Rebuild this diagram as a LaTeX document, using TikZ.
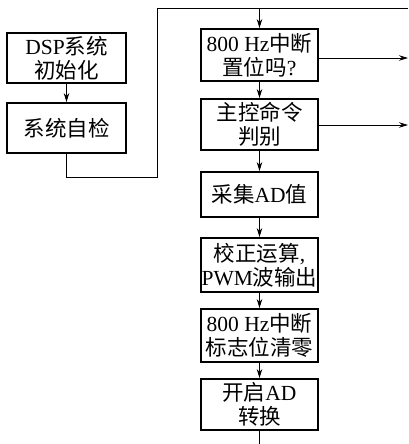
\documentclass[tikz,border=0pt]{standalone}
\usepackage{fontspec}
\setmainfont{Liberation Serif}
\newfontfamily\cjk{Noto Sans CJK SC}
\usetikzlibrary{arrows.meta}
\tikzset{
  box/.style={draw, line width=1.8pt, minimum width=117pt, align=center, inner sep=0pt,
    font=\fontsize{21.5}{24}\selectfont},
  conn/.style={line width=0.9pt},
  arr/.style={conn, -{Stealth[length=9pt,width=5.5pt]}}
}
\begin{document}
\begin{tikzpicture}[x=1pt,y=-1pt]
\useasboundingbox (0,0) rectangle (408,444);
\node[box, minimum height=50pt, minimum width=119pt] (dsp) at (66.5,58) {DSP{\cjk 系统}\\{\cjk 初始化}};
\node[box, minimum height=50pt, minimum width=119pt] (chk) at (66.5,128) {{\cjk 系统自检}};
\node[box, minimum height=52pt] (r1) at (259.5,55) {800 Hz{\cjk 中断}\\{\cjk 置位吗}?};
\node[box, minimum height=51pt] (r2) at (259.5,124.5) {{\cjk 主控命令}\\{\cjk 判别}};
\node[box, minimum height=45pt] (r3) at (259.5,194.5) {{\cjk 采集}AD{\cjk 值}};
\node[box, minimum height=54pt] (r4) at (259.5,265) {{\cjk 校正运算},\\PWM{\cjk 波输出}};
\node[box, minimum height=53pt] (r5) at (259.5,335.5) {800 Hz{\cjk 中断}\\{\cjk 标志位清零}};
\node[box, minimum height=51pt] (r6) at (259.5,404.5) {{\cjk 开启}AD\\{\cjk 转换}};
\coordinate (t1) at (157,177);
\coordinate (t2) at (157,8);
\coordinate (t3) at (408,8);
\coordinate (o1) at (408,58);
\coordinate (o2) at (408,125);
\coordinate (bt) at (259.5,444);
\draw[arr] (dsp) -- (chk);
\draw[conn] (chk.south) |- (t1) -- (t2) -- (t3);
\draw[arr] (r1.north |- t2) -- (r1.north);
\draw[arr] (r1) -- (r2);
\draw[arr] (r2) -- (r3);
\draw[arr] (r3) -- (r4);
\draw[arr] (r4) -- (r5);
\draw[arr] (r5) -- (r6);
\draw[conn] (r6) -- (bt);
\draw[arr] (r1.east |- o1) -- (o1);
\draw[arr] (r2.east |- o2) -- (o2);
\end{tikzpicture}
\end{document}
